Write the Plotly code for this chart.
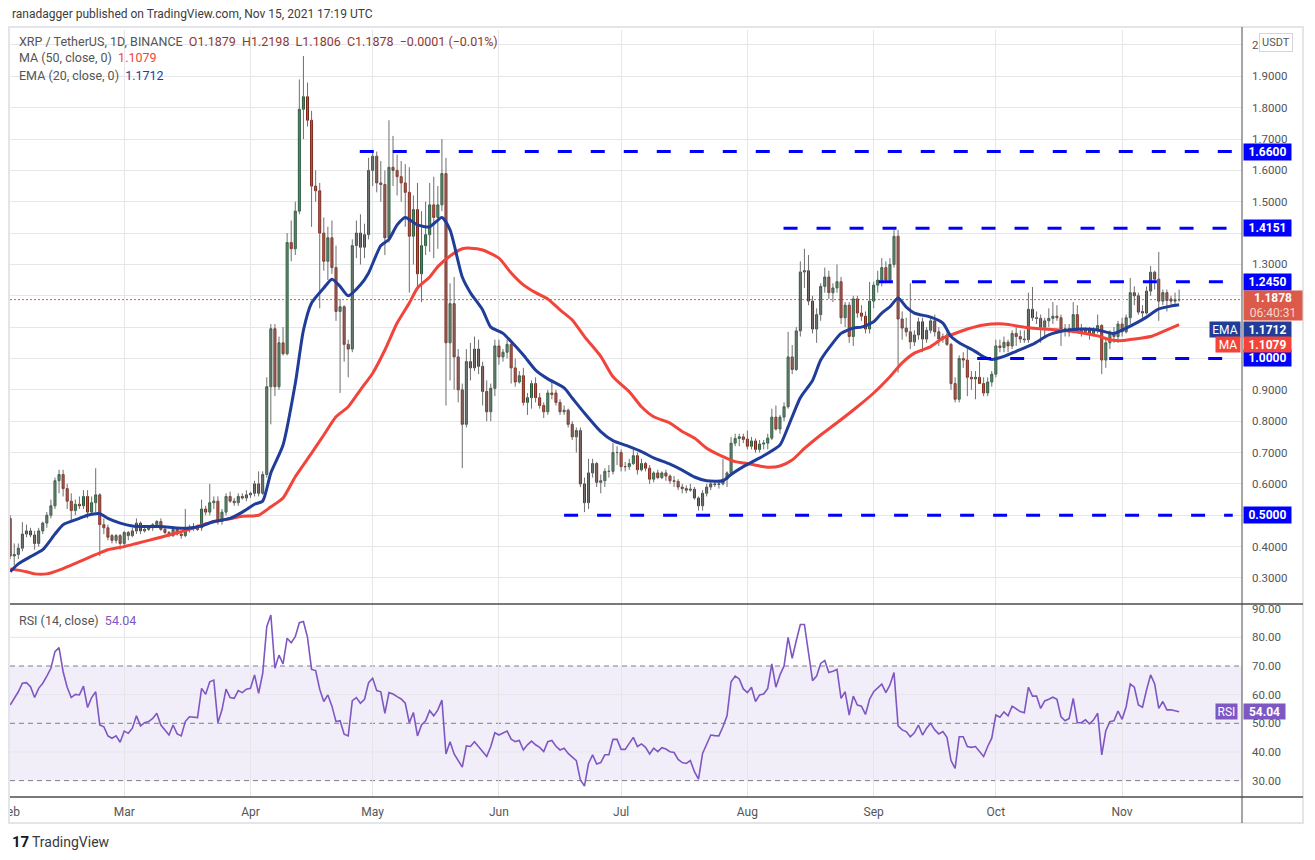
import pandas as pd
import plotly.graph_objects as go

# XRP / TetherUS, 1D, Binance -- daily candles (open, high, low, close), one list per month
feb = [
    (0.490, 0.500, 0.360, 0.370), (0.370, 0.410, 0.340, 0.375), (0.375, 0.410, 0.360, 0.395),
    (0.395, 0.478, 0.385, 0.440), (0.440, 0.470, 0.430, 0.450), (0.450, 0.460, 0.430, 0.437),
    (0.437, 0.450, 0.390, 0.410), (0.410, 0.460, 0.400, 0.450), (0.450, 0.480, 0.440, 0.475),
    (0.475, 0.510, 0.460, 0.500), (0.500, 0.550, 0.490, 0.530), (0.530, 0.620, 0.520, 0.610),
    (0.610, 0.645, 0.570, 0.630), (0.630, 0.645, 0.560, 0.585), (0.585, 0.600, 0.520, 0.545),
    (0.545, 0.570, 0.480, 0.515), (0.515, 0.550, 0.500, 0.535), (0.535, 0.560, 0.520, 0.530),
    (0.530, 0.580, 0.520, 0.560), (0.560, 0.580, 0.490, 0.510), (0.510, 0.560, 0.500, 0.540),
    (0.540, 0.650, 0.510, 0.565), (0.565, 0.570, 0.370, 0.470), (0.470, 0.490, 0.440, 0.460),
    (0.460, 0.470, 0.420, 0.430), (0.435, 0.440, 0.410, 0.420), (0.420, 0.440, 0.410, 0.435),
    (0.435, 0.440, 0.390, 0.410),
]
mar = [
    (0.410, 0.450, 0.400, 0.445), (0.445, 0.450, 0.420, 0.435), (0.435, 0.460, 0.430, 0.450),
    (0.450, 0.490, 0.440, 0.475), (0.475, 0.480, 0.440, 0.450), (0.450, 0.465, 0.445, 0.455),
    (0.455, 0.465, 0.450, 0.460), (0.460, 0.475, 0.450, 0.470), (0.470, 0.485, 0.460, 0.480),
    (0.480, 0.490, 0.450, 0.455), (0.455, 0.460, 0.440, 0.445), (0.445, 0.450, 0.430, 0.435),
    (0.435, 0.460, 0.430, 0.455), (0.455, 0.460, 0.435, 0.440), (0.440, 0.445, 0.425, 0.435),
    (0.435, 0.520, 0.430, 0.455), (0.455, 0.470, 0.445, 0.460), (0.460, 0.475, 0.450, 0.458),
    (0.458, 0.470, 0.450, 0.455), (0.460, 0.550, 0.450, 0.520), (0.520, 0.530, 0.500, 0.510),
    (0.510, 0.600, 0.500, 0.540), (0.540, 0.560, 0.520, 0.545), (0.545, 0.560, 0.470, 0.480),
    (0.480, 0.520, 0.470, 0.510), (0.510, 0.570, 0.500, 0.560), (0.560, 0.575, 0.540, 0.545),
    (0.545, 0.555, 0.530, 0.540), (0.540, 0.570, 0.530, 0.560), (0.560, 0.570, 0.550, 0.555),
    (0.555, 0.580, 0.545, 0.565),
]
apr = [
    (0.565, 0.575, 0.555, 0.570), (0.570, 0.610, 0.560, 0.600), (0.600, 0.640, 0.560, 0.570),
    (0.570, 0.640, 0.565, 0.630), (0.630, 0.940, 0.620, 0.910), (0.910, 1.110, 0.790, 1.095),
    (1.095, 1.110, 0.880, 0.910), (0.910, 1.070, 0.900, 1.050), (1.050, 1.100, 1.010, 1.015),
    (1.015, 1.400, 1.010, 1.370), (1.370, 1.440, 1.310, 1.350), (1.350, 1.500, 1.330, 1.470),
    (1.470, 1.890, 1.460, 1.795), (1.795, 1.965, 1.700, 1.835), (1.835, 1.880, 1.740, 1.760),
    (1.760, 1.790, 1.420, 1.550), (1.550, 1.600, 1.500, 1.535), (1.535, 1.560, 1.160, 1.400),
    (1.400, 1.450, 1.280, 1.310), (1.310, 1.420, 1.250, 1.385), (1.385, 1.440, 1.270, 1.290),
    (1.290, 1.360, 1.120, 1.150), (1.150, 1.190, 0.890, 1.165), (1.165, 1.170, 0.990, 1.045),
    (1.045, 1.060, 0.940, 1.030), (1.030, 1.380, 1.020, 1.360), (1.360, 1.440, 1.320, 1.400),
    (1.400, 1.460, 1.300, 1.355), (1.355, 1.430, 1.320, 1.395), (1.395, 1.640, 1.380, 1.600),
]
may = [
    (1.600, 1.660, 1.550, 1.645), (1.645, 1.660, 1.530, 1.560), (1.560, 1.630, 1.500, 1.555),
    (1.555, 1.600, 1.330, 1.385), (1.385, 1.760, 1.370, 1.610), (1.610, 1.710, 1.550, 1.600),
    (1.600, 1.650, 1.520, 1.580), (1.580, 1.630, 1.500, 1.560), (1.560, 1.620, 1.420, 1.530),
    (1.530, 1.610, 1.210, 1.390), (1.390, 1.520, 1.300, 1.475), (1.475, 1.560, 1.220, 1.270),
    (1.270, 1.470, 1.180, 1.360), (1.360, 1.500, 1.330, 1.395), (1.395, 1.560, 1.340, 1.490),
    (1.490, 1.580, 1.320, 1.450), (1.450, 1.550, 1.350, 1.490), (1.490, 1.700, 1.470, 1.590),
    (1.590, 1.640, 0.850, 1.050), (1.050, 1.240, 0.930, 1.175), (1.175, 1.260, 0.900, 1.005),
    (1.005, 1.030, 0.860, 0.900), (0.900, 0.920, 0.650, 0.790), (0.790, 1.030, 0.780, 0.990),
    (0.990, 1.050, 0.930, 0.970), (0.970, 1.070, 0.960, 1.030), (1.030, 1.060, 0.950, 0.975),
    (0.975, 0.990, 0.850, 0.895), (0.895, 0.930, 0.800, 0.830), (0.830, 0.920, 0.800, 0.905),
    (0.905, 1.060, 0.880, 1.040),
]
jun = [
    (1.040, 1.060, 0.980, 1.005), (1.005, 1.030, 0.990, 1.020), (1.020, 1.060, 1.000, 1.045),
    (1.045, 1.050, 0.920, 0.970), (0.970, 1.000, 0.910, 0.925), (0.925, 0.960, 0.920, 0.945),
    (0.945, 0.970, 0.850, 0.860), (0.860, 0.890, 0.820, 0.875), (0.875, 0.930, 0.840, 0.920),
    (0.920, 0.940, 0.860, 0.875), (0.875, 0.890, 0.840, 0.850), (0.850, 0.860, 0.810, 0.830),
    (0.830, 0.900, 0.820, 0.890), (0.890, 0.930, 0.870, 0.885), (0.890, 0.900, 0.850, 0.860),
    (0.860, 0.870, 0.820, 0.830), (0.830, 0.850, 0.820, 0.835), (0.835, 0.840, 0.780, 0.790),
    (0.790, 0.800, 0.740, 0.750), (0.750, 0.780, 0.700, 0.770), (0.770, 0.780, 0.590, 0.600),
    (0.600, 0.620, 0.510, 0.540), (0.540, 0.680, 0.520, 0.635), (0.635, 0.680, 0.620, 0.665),
    (0.665, 0.670, 0.590, 0.605), (0.605, 0.630, 0.570, 0.610), (0.610, 0.650, 0.590, 0.640),
    (0.640, 0.660, 0.620, 0.640), (0.640, 0.730, 0.630, 0.700), (0.700, 0.720, 0.660, 0.700),
]
jul = [
    (0.700, 0.710, 0.640, 0.655), (0.655, 0.670, 0.640, 0.655), (0.655, 0.680, 0.645, 0.665),
    (0.665, 0.710, 0.660, 0.690), (0.690, 0.700, 0.630, 0.645), (0.645, 0.680, 0.640, 0.665),
    (0.665, 0.670, 0.640, 0.650), (0.650, 0.660, 0.600, 0.615), (0.615, 0.640, 0.605, 0.635),
    (0.635, 0.645, 0.615, 0.620), (0.620, 0.640, 0.615, 0.635), (0.635, 0.645, 0.610, 0.625),
    (0.625, 0.630, 0.600, 0.610), (0.610, 0.625, 0.590, 0.608), (0.608, 0.615, 0.580, 0.590),
    (0.590, 0.600, 0.570, 0.585), (0.585, 0.595, 0.570, 0.580), (0.580, 0.600, 0.575, 0.583),
    (0.583, 0.590, 0.550, 0.555), (0.555, 0.560, 0.515, 0.530), (0.530, 0.580, 0.515, 0.570),
    (0.570, 0.600, 0.560, 0.590), (0.590, 0.610, 0.580, 0.600), (0.600, 0.610, 0.590, 0.598),
    (0.598, 0.610, 0.585, 0.600), (0.600, 0.680, 0.595, 0.615), (0.615, 0.640, 0.590, 0.635),
    (0.635, 0.750, 0.630, 0.730), (0.730, 0.760, 0.720, 0.745), (0.745, 0.760, 0.720, 0.750),
    (0.750, 0.760, 0.730, 0.742),
]
aug = [
    (0.743, 0.770, 0.710, 0.720), (0.720, 0.750, 0.710, 0.737), (0.737, 0.745, 0.700, 0.710),
    (0.710, 0.740, 0.700, 0.727), (0.727, 0.740, 0.710, 0.730), (0.730, 0.760, 0.710, 0.746),
    (0.746, 0.840, 0.740, 0.813), (0.813, 0.850, 0.770, 0.775), (0.775, 0.820, 0.760, 0.813),
    (0.813, 0.860, 0.800, 0.846), (0.846, 1.085, 0.840, 1.005), (1.005, 1.043, 0.950, 0.965),
    (0.965, 1.100, 0.960, 1.088), (1.088, 1.310, 1.070, 1.276), (1.276, 1.350, 1.225, 1.280),
    (1.280, 1.330, 1.170, 1.183), (1.183, 1.200, 1.080, 1.094), (1.094, 1.160, 1.050, 1.140),
    (1.140, 1.240, 1.120, 1.230), (1.230, 1.290, 1.210, 1.260), (1.260, 1.280, 1.190, 1.210),
    (1.210, 1.240, 1.180, 1.225), (1.225, 1.300, 1.210, 1.245), (1.245, 1.260, 1.110, 1.130),
    (1.130, 1.180, 1.100, 1.170), (1.170, 1.180, 1.050, 1.070), (1.070, 1.200, 1.040, 1.190),
    (1.190, 1.200, 1.130, 1.145), (1.145, 1.170, 1.120, 1.135), (1.135, 1.150, 1.080, 1.094),
    (1.094, 1.244, 1.080, 1.183),
]
sep = [
    (1.183, 1.245, 1.160, 1.234), (1.234, 1.280, 1.210, 1.250), (1.250, 1.320, 1.230, 1.290),
    (1.290, 1.310, 1.240, 1.250), (1.250, 1.320, 1.240, 1.300), (1.300, 1.410, 1.290, 1.390),
    (1.390, 1.410, 0.955, 1.126), (1.126, 1.150, 1.060, 1.097), (1.097, 1.130, 1.070, 1.085),
    (1.085, 1.240, 1.030, 1.053), (1.053, 1.090, 1.040, 1.075), (1.075, 1.130, 1.060, 1.117),
    (1.117, 1.130, 1.020, 1.062), (1.062, 1.100, 1.050, 1.090), (1.090, 1.130, 1.080, 1.120),
    (1.120, 1.140, 1.070, 1.085), (1.085, 1.100, 1.040, 1.062), (1.062, 1.080, 1.050, 1.070),
    (1.075, 1.090, 1.040, 1.045), (1.045, 1.050, 0.900, 0.920), (0.920, 0.940, 0.860, 0.870),
    (0.870, 1.010, 0.860, 1.000), (1.000, 1.020, 0.970, 0.995), (0.995, 1.030, 0.880, 0.940),
    (0.940, 0.960, 0.900, 0.935), (0.935, 0.960, 0.870, 0.940), (0.940, 0.990, 0.920, 0.920),
    (0.920, 0.940, 0.880, 0.890), (0.890, 0.940, 0.880, 0.925), (0.925, 0.960, 0.910, 0.950),
]
oct_ = [
    (0.950, 1.060, 0.940, 1.040), (1.040, 1.060, 1.020, 1.035), (1.035, 1.070, 1.020, 1.052),
    (1.052, 1.060, 1.020, 1.040), (1.040, 1.090, 1.030, 1.080), (1.080, 1.100, 1.040, 1.070),
    (1.070, 1.090, 1.050, 1.062), (1.062, 1.090, 1.050, 1.060), (1.060, 1.210, 1.050, 1.157),
    (1.157, 1.228, 1.120, 1.130), (1.130, 1.150, 1.110, 1.128), (1.128, 1.140, 1.050, 1.100),
    (1.100, 1.130, 1.070, 1.120), (1.120, 1.160, 1.100, 1.128), (1.128, 1.180, 1.110, 1.135),
    (1.135, 1.170, 1.120, 1.130), (1.130, 1.140, 1.040, 1.090), (1.090, 1.110, 1.070, 1.095),
    (1.095, 1.110, 1.070, 1.085), (1.085, 1.180, 1.080, 1.140), (1.140, 1.170, 1.080, 1.088),
    (1.090, 1.110, 1.070, 1.085), (1.085, 1.100, 1.080, 1.090), (1.090, 1.100, 1.060, 1.080),
    (1.080, 1.100, 1.070, 1.090), (1.090, 1.140, 1.080, 1.105), (1.105, 1.110, 0.950, 0.995),
    (0.995, 1.060, 0.970, 1.050), (1.050, 1.090, 1.030, 1.080), (1.080, 1.100, 1.050, 1.070),
    (1.070, 1.120, 1.050, 1.110),
]
nov = [
    (1.110, 1.130, 1.070, 1.085), (1.085, 1.140, 1.080, 1.130), (1.130, 1.257, 1.110, 1.210),
    (1.210, 1.230, 1.170, 1.200), (1.200, 1.210, 1.140, 1.148), (1.150, 1.170, 1.130, 1.145),
    (1.145, 1.230, 1.140, 1.215), (1.215, 1.295, 1.200, 1.275), (1.275, 1.280, 1.220, 1.253),
    (1.253, 1.340, 1.120, 1.183), (1.183, 1.220, 1.170, 1.210), (1.210, 1.220, 1.150, 1.185),
    (1.190, 1.200, 1.170, 1.183), (1.183, 1.210, 1.170, 1.188), (1.1879, 1.2198, 1.1806, 1.1878),
]

# EMA (20)
ema_dates = ["2021-02-01", "2021-02-03", "2021-02-06", "2021-02-09", "2021-02-12", "2021-02-14",
             "2021-02-18", "2021-02-20", "2021-02-23", "2021-02-25", "2021-02-28", "2021-03-03",
             "2021-03-06", "2021-03-10", "2021-03-14", "2021-03-17", "2021-03-20", "2021-03-23",
             "2021-03-27", "2021-03-30", "2021-04-02", "2021-04-04", "2021-04-06", "2021-04-09",
             "2021-04-12", "2021-04-14", "2021-04-16", "2021-04-19", "2021-04-21", "2021-04-23",
             "2021-04-25", "2021-04-28", "2021-04-30", "2021-05-03", "2021-05-05", "2021-05-07",
             "2021-05-09", "2021-05-12", "2021-05-15", "2021-05-18", "2021-05-20", "2021-05-23",
             "2021-05-25", "2021-05-28", "2021-05-30", "2021-06-02", "2021-06-04", "2021-06-07",
             "2021-06-10", "2021-06-13", "2021-06-17", "2021-06-19", "2021-06-22", "2021-06-26",
             "2021-06-29", "2021-07-03", "2021-07-06", "2021-07-09", "2021-07-13", "2021-07-16",
             "2021-07-19", "2021-07-22", "2021-07-26", "2021-07-28", "2021-07-31", "2021-08-03",
             "2021-08-05", "2021-08-09", "2021-08-11", "2021-08-14", "2021-08-17", "2021-08-19",
             "2021-08-22", "2021-08-24", "2021-08-27", "2021-08-29", "2021-09-01", "2021-09-03",
             "2021-09-05", "2021-09-07", "2021-09-09", "2021-09-11", "2021-09-15", "2021-09-18",
             "2021-09-20", "2021-09-22", "2021-09-26", "2021-09-28", "2021-09-30", "2021-10-03",
             "2021-10-06", "2021-10-10", "2021-10-14", "2021-10-18", "2021-10-22", "2021-10-26",
             "2021-10-30", "2021-11-02", "2021-11-05", "2021-11-07", "2021-11-10", "2021-11-13",
             "2021-11-15"]
ema_values = [0.320, 0.345, 0.368, 0.390, 0.440, 0.470,
              0.490, 0.500, 0.505, 0.490, 0.475, 0.466,
              0.464, 0.464, 0.459, 0.459, 0.466, 0.480,
              0.490, 0.510, 0.535, 0.545, 0.635, 0.724,
              0.920, 1.090, 1.177, 1.225, 1.253, 1.230,
              1.200, 1.235, 1.273, 1.360, 1.380, 1.426,
              1.450, 1.426, 1.420, 1.450, 1.410, 1.260,
              1.210, 1.155, 1.100, 1.080, 1.054, 1.011,
              0.963, 0.935, 0.906, 0.874, 0.826, 0.767,
              0.738, 0.719, 0.703, 0.683, 0.663, 0.644,
              0.622, 0.610, 0.610, 0.630, 0.655, 0.676,
              0.690, 0.724, 0.782, 0.875, 0.930, 0.995,
              1.050, 1.080, 1.097, 1.100, 1.117, 1.145,
              1.165, 1.193, 1.164, 1.145, 1.132, 1.113,
              1.070, 1.050, 1.022, 1.005, 0.997, 1.007,
              1.023, 1.045, 1.075, 1.089, 1.094, 1.091,
              1.080, 1.097, 1.117, 1.132, 1.158, 1.167,
              1.1712]

# MA (50)
ma_dates = ["2021-02-01", "2021-02-05", "2021-02-07", "2021-02-10", "2021-02-13", "2021-02-16",
            "2021-02-20", "2021-02-23", "2021-02-25", "2021-03-01", "2021-03-04", "2021-03-07",
            "2021-03-10", "2021-03-14", "2021-03-17", "2021-03-20", "2021-03-23", "2021-03-27",
            "2021-03-30", "2021-04-03", "2021-04-06", "2021-04-09", "2021-04-12", "2021-04-16",
            "2021-04-19", "2021-04-22", "2021-04-25", "2021-04-28", "2021-05-01", "2021-05-04",
            "2021-05-07", "2021-05-10", "2021-05-12", "2021-05-15", "2021-05-17", "2021-05-20",
            "2021-05-23", "2021-05-25", "2021-05-28", "2021-06-01", "2021-06-04", "2021-06-07",
            "2021-06-10", "2021-06-13", "2021-06-16", "2021-06-19", "2021-06-22", "2021-06-26",
            "2021-06-29", "2021-07-03", "2021-07-06", "2021-07-09", "2021-07-13", "2021-07-16",
            "2021-07-19", "2021-07-22", "2021-07-26", "2021-07-29", "2021-08-01", "2021-08-04",
            "2021-08-06", "2021-08-09", "2021-08-12", "2021-08-15", "2021-08-19", "2021-08-23",
            "2021-08-28", "2021-09-01", "2021-09-05", "2021-09-08", "2021-09-11", "2021-09-15",
            "2021-09-18", "2021-09-20", "2021-09-24", "2021-09-28", "2021-10-03", "2021-10-08",
            "2021-10-13", "2021-10-18", "2021-10-23", "2021-10-26", "2021-10-29", "2021-11-01",
            "2021-11-04", "2021-11-08", "2021-11-11", "2021-11-15"]
ma_values = [0.329, 0.320, 0.313, 0.313, 0.325, 0.341,
             0.363, 0.380, 0.390, 0.400, 0.410, 0.420,
             0.430, 0.444, 0.455, 0.468, 0.479, 0.489,
             0.497, 0.500, 0.527, 0.555, 0.623, 0.698,
             0.756, 0.814, 0.846, 0.900, 0.953, 1.027,
             1.113, 1.177, 1.225, 1.260, 1.293, 1.327,
             1.350, 1.352, 1.346, 1.320, 1.273, 1.235,
             1.210, 1.190, 1.155, 1.123, 1.070, 1.007,
             0.942, 0.894, 0.846, 0.814, 0.794, 0.767,
             0.746, 0.714, 0.687, 0.671, 0.665, 0.657,
             0.653, 0.657, 0.676, 0.713, 0.756, 0.795,
             0.846, 0.890, 0.942, 0.986, 1.017, 1.038,
             1.065, 1.075, 1.094, 1.107, 1.110, 1.100,
             1.094, 1.089, 1.080, 1.072, 1.060, 1.057,
             1.062, 1.070, 1.086, 1.1079]

# RSI (14) daily values
rsi_feb = [56.4, 58.7, 61.0, 64.0, 64.2, 62.8, 59.0, 62.2, 64.0, 66.5, 69.2, 75.0, 76.4, 68.0,
           62.6, 59.0, 60.1, 59.9, 63.0, 55.5, 59.0, 61.0, 49.4, 48.8, 45.6, 44.8, 45.6, 43.4]
rsi_mar = [47.3, 46.5, 48.3, 52.6, 49.1, 50.2, 50.6, 51.7, 53.5, 49.4, 47.7, 45.9, 49.4, 46.3,
           45.6, 50.6, 52.3, 52.1, 52.0, 62.2, 60.1, 64.5, 65.1, 50.2, 54.7, 61.9, 59.0, 58.7,
           61.4, 60.7, 61.9]
rsi_apr = [62.2, 66.9, 60.5, 67.4, 83.7, 87.8, 69.2, 73.8, 70.7, 79.7, 78.1, 80.2, 85.1, 85.5,
           80.0, 68.8, 68.4, 61.9, 57.6, 59.9, 56.0, 50.6, 50.9, 46.2, 45.6, 57.9, 59.0, 57.0,
           58.4, 64.2]
rsi_may = [65.7, 61.4, 61.0, 53.5, 60.7, 60.2, 59.3, 58.5, 57.0, 50.2, 53.8, 45.6, 49.4, 50.9,
           54.4, 52.6, 54.7, 58.1, 39.3, 43.6, 39.3, 37.0, 34.7, 42.1, 41.9, 43.6, 41.9, 40.0,
           38.4, 41.9, 46.7]
rsi_jun = [45.9, 46.5, 47.3, 44.5, 43.6, 44.0, 40.7, 42.5, 43.8, 42.5, 41.6, 40.1, 43.6, 44.0,
           42.0, 40.7, 41.3, 39.5, 38.4, 37.0, 30.2, 28.1, 36.0, 39.0, 35.8, 36.3, 39.0, 39.0,
           44.4, 44.4]
rsi_jul = [40.9, 40.9, 43.0, 45.1, 41.9, 42.8, 41.6, 39.3, 41.3, 40.1, 41.5, 41.0, 40.1, 39.8,
           37.4, 36.3, 36.0, 37.0, 33.1, 30.5, 39.5, 43.0, 45.9, 45.7, 45.6, 48.8, 52.6, 64.5,
           66.5, 65.5, 62.0]
rsi_aug = [60.7, 62.6, 57.6, 59.9, 60.2, 62.2, 70.7, 62.6, 66.9, 70.0, 80.0, 72.7, 78.8, 84.5,
           84.5, 74.4, 64.9, 66.5, 70.9, 71.9, 67.7, 68.2, 68.8, 58.7, 61.0, 52.9, 59.5, 56.4,
           56.0, 53.1, 58.4]
rsi_sep = [61.0, 62.2, 63.7, 60.7, 63.4, 67.7, 49.1, 47.7, 47.1, 45.3, 46.7, 49.4, 45.9, 48.3,
           50.0, 47.7, 46.3, 47.1, 45.1, 37.0, 34.3, 45.3, 45.3, 41.9, 41.6, 41.9, 40.0, 38.4,
           41.9, 44.8]
rsi_oct = [52.9, 52.1, 54.0, 52.6, 56.0, 55.2, 54.1, 53.7, 62.6, 59.5, 59.5, 55.2, 57.8, 58.4,
           59.1, 58.4, 52.3, 50.9, 51.7, 58.7, 50.2, 50.2, 51.2, 49.8, 51.2, 53.5, 39.0, 47.4,
           50.6, 50.9, 54.3]
rsi_nov = [51.4, 55.8, 63.7, 62.6, 56.4, 55.6, 61.6, 66.9, 63.7, 55.2, 57.6, 54.7, 54.7, 54.5,
           54.04]

# horizontal levels drawn by the author
levels = [1.66, 1.4151, 1.245, 1.0, 0.5]
level_start = ["2021-04-27 20:00", "2021-08-09 21:00", "2021-09-02 07:00",
               "2021-09-26 10:00", "2021-06-17 00:00"]
level_end = "2021-11-28 04:00"

price_ticks = [0.3, 0.4, 0.5, 0.6, 0.7, 0.8, 0.9, 1.0, 1.1, 1.2, 1.3, 1.4, 1.5, 1.6, 1.7, 1.8, 1.9, 2.0]
hidden_ticks = [0.5, 1.0, 1.1, 1.2, 1.4]
rsi_ticks = [30, 40, 50, 60, 70, 80, 90]

# ---------------------------------------------------------------------------
candles = feb + mar + apr + may + jun + jul + aug + sep + oct_ + nov
dates = pd.date_range("2021-02-01", periods=len(candles), freq="D")
opens = [c[0] for c in candles]
highs = [c[1] for c in candles]
lows = [c[2] for c in candles]
closes = [c[3] for c in candles]
rsi = rsi_feb + rsi_mar + rsi_apr + rsi_may + rsi_jun + rsi_jul + rsi_aug + rsi_sep + rsi_oct + rsi_nov

FONT = "Roboto"
GRID = "#e6e6e9"
UP_FILL, UP_EDGE = "#4e9e6a", "#27573b"
DN_FILL, DN_EDGE = "#d2452f", "#7c2619"
EMA_C, MA_C, RSI_C = "#1f3d99", "#f2443a", "#7e57c2"
LVL_C = "#0000ff"
PRICE_C = "#dc5a49"
TXT = "#555555"

# page body has an 8px offset, so the figure is laid out 8px up/left of the screen positions
W, H = 1307, 852
ML, MR, MT, MB = 2, 73, 22, 63
PW, PH = W - ML - MR, H - MT - MB


def xp(px):
    # screen pixel -> paper x
    return (px - 8 - ML) / PW


def yp(py):
    # screen pixel -> paper y
    return (H - MB - (py - 8)) / PH


fig = go.Figure()

# wicks
wick_x, wick_y = [], []
for d, h, l in zip(dates, highs, lows):
    wick_x += [d, d, None]
    wick_y += [l, h, None]
fig.add_trace(go.Scatter(x=wick_x, y=wick_y, mode="lines", line=dict(color="#6e6e6e", width=1),
                         hoverinfo="skip", xaxis="x", yaxis="y"))

# bodies
fig.add_trace(go.Candlestick(
    x=dates, open=opens, close=closes,
    high=[max(o, c) for o, c in zip(opens, closes)],
    low=[min(o, c) for o, c in zip(opens, closes)],
    increasing=dict(fillcolor=UP_FILL, line=dict(color=UP_EDGE, width=1)),
    decreasing=dict(fillcolor=DN_FILL, line=dict(color=DN_EDGE, width=1)),
    whiskerwidth=0, hoverinfo="skip", xaxis="x", yaxis="y"))

fig.add_trace(go.Scatter(x=pd.to_datetime(ma_dates), y=ma_values, mode="lines",
                         line=dict(color=MA_C, width=3, shape="spline", smoothing=0.6),
                         xaxis="x", yaxis="y"))
fig.add_trace(go.Scatter(x=pd.to_datetime(ema_dates), y=ema_values, mode="lines",
                         line=dict(color=EMA_C, width=3, shape="spline", smoothing=0.6),
                         xaxis="x", yaxis="y"))

for lvl, start in zip(levels, level_start):
    fig.add_trace(go.Scatter(x=[pd.Timestamp(start), pd.Timestamp(level_end)], y=[lvl, lvl],
                             mode="lines", line=dict(color=LVL_C, width=3, dash="14px,19px"),
                             xaxis="x", yaxis="y"))

fig.add_trace(go.Scatter(x=dates, y=rsi, mode="lines", line=dict(color=RSI_C, width=1.6),
                         xaxis="x2", yaxis="y2"))

x_range = ["2021-01-31 23:00", "2021-11-30 10:30"]
axis_font = dict(family=FONT, size=11.5, color=TXT)

fig.update_layout(
    width=W, height=H, margin=dict(l=ML, r=MR, t=MT, b=MB, autoexpand=False),
    paper_bgcolor="white", plot_bgcolor="white", showlegend=False,
    font=dict(family=FONT, color=TXT),
    xaxis=dict(domain=[0, 1], anchor="y", type="date", range=x_range, showticklabels=False,
               showgrid=True, gridcolor=GRID, dtick="M1", tick0="2021-01-01", ticks="",
               zeroline=False, showline=False, automargin=False, rangeslider=dict(visible=False)),
    xaxis2=dict(domain=[0, 1], anchor="y2", type="date", range=x_range, matches="x",
                showgrid=True, gridcolor=GRID, dtick="M1", tick0="2021-01-01", tickformat="%b",
                ticks="", ticklabelstandoff=6, ticklabeloverflow="allow", automargin=False,
                tickfont=dict(family=FONT, size=12, color=TXT), zeroline=False, showline=False),
    yaxis=dict(domain=[yp(604), 1], anchor="x", side="right", range=[0.2169, 2.0478],
               tickvals=price_ticks,
               ticktext=["2" if t == 2.0 else ("" if t in hidden_ticks else f"{t:.4f}")
                         for t in price_ticks],
               showgrid=True, gridcolor=GRID, zeroline=False, ticks="", ticklabelstandoff=9,
               automargin=False, tickfont=axis_font),
    yaxis2=dict(domain=[0, yp(604)], anchor="x2", side="right", range=[24.28, 91.64],
                tickvals=rsi_ticks, ticktext=[f"{t:.2f}" for t in rsi_ticks],
                showgrid=False, zeroline=False, ticks="", ticklabelstandoff=9, automargin=False,
                tickfont=axis_font),
)

shapes = []
# RSI band and guide lines
shapes.append(dict(type="rect", xref="paper", yref="y2", x0=0, x1=1, y0=30, y1=70,
                   fillcolor="rgba(126,87,194,0.10)", line=dict(width=0), layer="below"))
for g in [40, 60, 80]:
    shapes.append(dict(type="line", xref="paper", yref="y2", x0=0, x1=1, y0=g, y1=g,
                       line=dict(color=GRID, width=1), layer="below"))
for g in [30, 50, 70]:
    shapes.append(dict(type="line", xref="paper", yref="y2", x0=0, x1=1, y0=g, y1=g,
                       line=dict(color="#7d7f88", width=1, dash="5px,4px"), layer="between"))
# last price dotted line
shapes.append(dict(type="line", xref="paper", yref="y", x0=0, x1=1, y0=closes[-1], y1=closes[-1],
                   line=dict(color=PRICE_C, width=1, dash="2px,2px"), layer="between"))
# frame, pane separators, price-scale border
shapes.append(dict(type="rect", xref="paper", yref="paper", x0=xp(9), x1=xp(1303), y0=yp(823),
                   y1=yp(27), line=dict(color="#e3e5ea", width=2)))
for yy in [604, 797]:
    shapes.append(dict(type="line", xref="paper", yref="paper", x0=xp(10), x1=xp(1303),
                       y0=yp(yy), y1=yp(yy), line=dict(color="#4d4d4d", width=1.5)))
shapes.append(dict(type="line", xref="paper", yref="paper", x0=1, x1=1, y0=yp(823), y1=yp(27),
                   line=dict(color="#4d4d4d", width=1)))
fig.update_layout(shapes=shapes)

ann = []


def text_at(txt, xpx, ypx, size=12.5, color=TXT, anchor="left"):
    ann.append(dict(text=txt, xref="paper", yref="paper", x=xp(xpx), y=yp(ypx), xanchor=anchor,
                    yanchor="middle", showarrow=False, font=dict(family=FONT, size=size, color=color)))


nb = "\u00a0"
o_l, h_l, l_l, c_l = opens[-1], highs[-1], lows[-1], closes[-1]
chg = c_l - o_l
chg_txt = f"{chg:+.4f}".replace("-", "\u2212")
pct_txt = f"{chg / o_l * 100:+.2f}%".replace("-", "\u2212")
text_at("ranadagger published on TradingView.com, Nov 15, 2021 17:19 UTC", 10, 14, size=12, color="#3c3c3c")
text_at(f"XRP / TetherUS, 1D, BINANCE{nb*2}<span style='color:#8e3a31'>O{o_l:.4f}{nb*2}H{h_l:.4f}"
        f"{nb*2}L{l_l:.4f}{nb*2}C{c_l:.4f}{nb*2}{chg_txt} ({pct_txt})</span>", 17, 42)
text_at(f"MA (50, close, 0){nb*2}<span style='color:{MA_C}'>{ma_values[-1]:.4f}</span>", 17, 58)
text_at(f"EMA (20, close, 0){nb*2}<span style='color:{EMA_C}'>{ema_values[-1]:.4f}</span>", 17, 75)
text_at(f"RSI (14, close){nb*2}<span style='color:{RSI_C}'>{rsi[-1]:.2f}</span>", 17, 620)
text_at("<b>17</b>", 10, 842, size=15, color="#131722")
text_at("TradingView", 30, 842, size=14, color="#3a3a3a")

# price-scale badges
for lvl in levels:
    ann.append(dict(text=f"<b>{lvl:.4f}</b>", xref="paper", yref="y", x=1, y=lvl, xanchor="left",
                    yanchor="middle", xshift=1, showarrow=False, bgcolor=LVL_C, width=45, height=14,
                    borderpad=1, font=dict(family=FONT, size=12, color="white")))
ann.append(dict(text=f"<b>{closes[-1]:.4f}</b><br><span style='color:#f6d6d1'>06:40:31</span>",
                xref="paper", yref="y", x=1, y=closes[-1], xanchor="left", yanchor="middle",
                xshift=1, yshift=-6, showarrow=False, bgcolor=PRICE_C, width=56, height=27,
                borderpad=1, font=dict(family=FONT, size=12, color="white")))
for name, val, col, ypx, tag_w in [("EMA", ema_values[-1], EMA_C, 329.5, 28),
                                    ("MA", ma_values[-1], MA_C, 344.5, 22)]:
    ann.append(dict(text=f"<b>{val:.4f}</b>", xref="paper", yref="paper", x=1, y=yp(ypx),
                    xanchor="left", yanchor="middle", xshift=1, showarrow=False, bgcolor=col,
                    width=45, height=13, borderpad=1, font=dict(family=FONT, size=12, color="white")))
    ann.append(dict(text=name, xref="paper", yref="paper", x=1, y=yp(ypx), xanchor="right",
                    yanchor="middle", xshift=-1, showarrow=False, bgcolor=col, width=tag_w,
                    height=13, borderpad=1, font=dict(family=FONT, size=12, color="white")))
ann.append(dict(text=f"<b>{rsi[-1]:.2f}</b>", xref="paper", yref="y2", x=1, y=rsi[-1],
                xanchor="left", yanchor="middle", xshift=1, showarrow=False, bgcolor=RSI_C,
                width=39, height=13, borderpad=1, font=dict(family=FONT, size=12, color="white")))
ann.append(dict(text="RSI", xref="paper", yref="y2", x=1, y=rsi[-1], xanchor="right",
                yanchor="middle", xshift=-4, showarrow=False, bgcolor=RSI_C, width=19, height=13,
                borderpad=1, font=dict(family=FONT, size=12, color="white")))
ann.append(dict(text="USDT", xref="paper", yref="paper", x=xp(1259), y=yp(42.5), xanchor="left",
                yanchor="middle", showarrow=False, bgcolor="white", bordercolor="#d4d6dc",
                borderwidth=1, borderpad=2, font=dict(family=FONT, size=11, color=TXT)))
fig.update_layout(annotations=ann)

fig.write_html("out.html")
